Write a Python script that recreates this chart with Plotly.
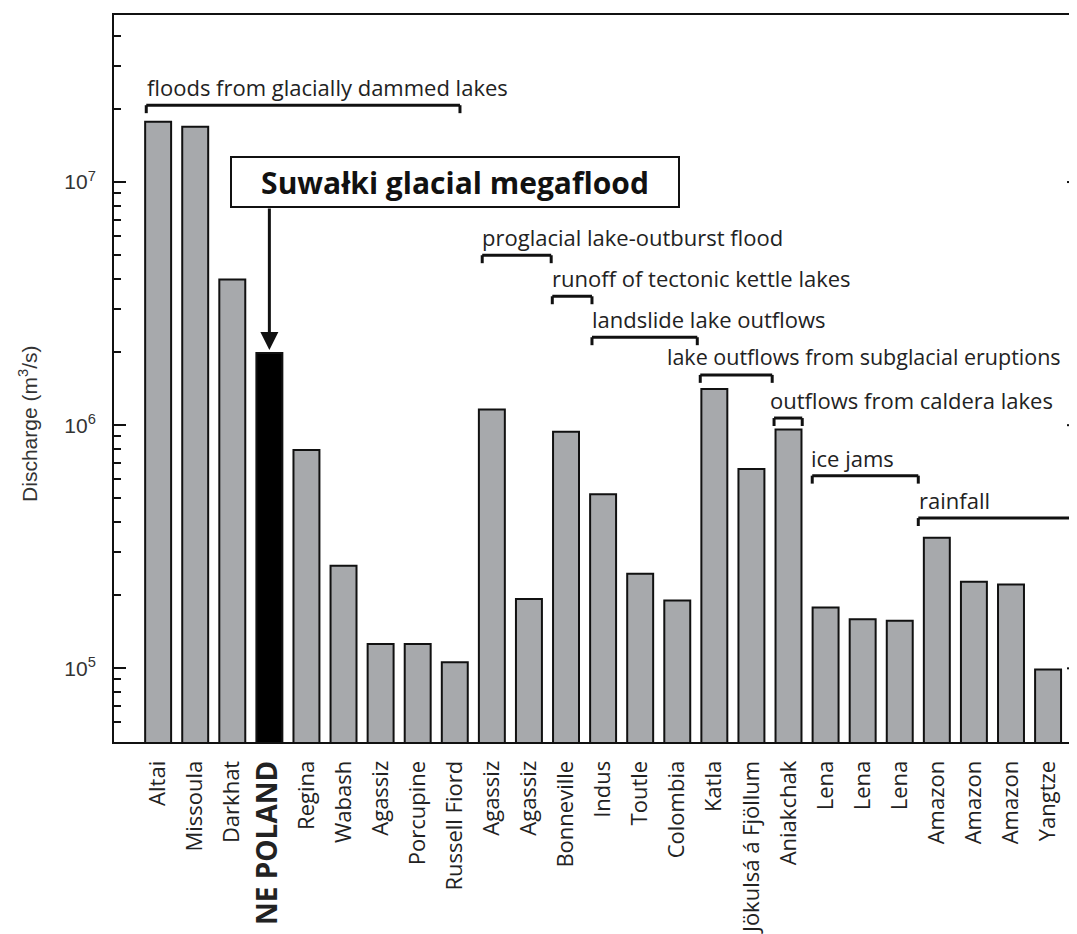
import math
import plotly.graph_objects as go

# ---------------- data ----------------
sites = ["Altai", "Missoula", "Darkhat", "NE POLAND", "Regina", "Wabash", "Agassiz",
         "Porcupine", "Russell Fiord", "Agassiz", "Agassiz", "Bonneville", "Indus",
         "Toutle", "Colombia", "Katla", "Jökulsá á Fjöllum", "Aniakchak", "Lena",
         "Lena", "Lena", "Amazon", "Amazon", "Amazon", "Yangtze"]
discharge = [1.77e7, 1.69e7, 3.97e6, 1.98e6, 7.9e5, 2.64e5, 1.26e5,
             1.26e5, 1.06e5, 1.16e6, 1.93e5, 9.4e5, 5.2e5,
             2.45e5, 1.90e5, 1.41e6, 6.6e5, 9.6e5, 1.78e5,
             1.59e5, 1.57e5, 3.44e5, 2.27e5, 2.21e5, 9.9e4]
highlight = "NE POLAND"

# flood-type groups: label, bracket start index, bracket end index, level (m3/s), label start index
groups = [
    ("floods from glacially dammed lakes", -0.32, 8.14, 2.07e7, -0.36),
    ("proglacial lake-outburst flood", 8.74, 10.6, 5.0e6, 8.68),
    ("runoff of tectonic kettle lakes", 10.63, 11.7, 3.39e6, 10.58),
    ("landslide lake outflows", 11.7, 14.54, 2.30e6, 11.66),
    ("lake outflows from subglacial eruptions", 14.62, 16.56, 1.61e6, 13.66),
    ("outflows from caldera lakes", 16.61, 17.37, 1.07e6, 16.46),
    ("ice jams", 17.64, 20.5, 6.2e5, 17.54),
    ("rainfall", 20.5, 24.65, 4.15e5, 20.46),
]

major_ticks = [1e5, 1e6, 1e7]
major_text = ["10<sup>5</sup>", "10<sup>6</sup>", "10<sup>7</sup>"]

# ---------------- figure ----------------
xs = list(range(len(sites)))
colors = ["#000000" if s == highlight else "#a7a9ac" for s in sites]

fig = go.Figure()
fig.add_trace(go.Bar(
    x=xs, y=discharge, width=0.70,
    marker=dict(color=colors, line=dict(color="#111111", width=2)),
    showlegend=False, hoverinfo="skip",
))

ticktext = []
for s in sites:
    if s == highlight:
        ticktext.append("<span style='font-size:28px'><b>%s</b></span>" % s)
    else:
        ticktext.append(s)

fig.update_layout(
    width=1069, height=926,
    margin=dict(l=106, r=0, t=7, b=188),
    paper_bgcolor="white", plot_bgcolor="white",
    xaxis=dict(
        range=[-1.19, 24.78],
        tickmode="array", tickvals=xs, ticktext=ticktext,
        tickangle=-90, ticks="",
        tickfont=dict(family="Open Sans", size=22, color="#222222"),
        showline=True, linecolor="#111111", linewidth=2, mirror=True,
        showgrid=False, zeroline=False, ticklabelstandoff=8,
    ),
    yaxis=dict(
        type="log", range=[4.697, 7.687],
        tickmode="array", tickvals=major_ticks, ticktext=major_text,
        ticks="inside", ticklen=12, tickwidth=2, tickcolor="#111111",
        minor=dict(ticks="inside", ticklen=7, tickwidth=2, tickcolor="#111111",
                   dtick="D1", showgrid=False),
        tickfont=dict(family="Liberation Sans", size=21, color="#333333"),
        showline=True, linecolor="#111111", linewidth=2,
        showgrid=False, zeroline=False, ticklabelstandoff=12,
    ),
)

# y-axis title
fig.add_annotation(
    text="Discharge (m<sup>3</sup>/s)", textangle=-90,
    xref="paper", yref="paper", x=-0.090, y=0.438, xanchor="center", yanchor="middle",
    showarrow=False, font=dict(family="Liberation Sans", size=21, color="#333333"),
)

# brackets + labels
tick_factor = 10 ** (-8 / 244.5)  # ~8 px downward on the log scale
for label, a, b, level, tx in groups:
    fig.add_shape(type="line", xref="x", yref="y", x0=a, x1=b, y0=level, y1=level,
                  line=dict(color="#111111", width=3))
    for xe in (a, b):
        fig.add_shape(type="line", xref="x", yref="y",
                      x0=xe, x1=xe, y0=level, y1=level * tick_factor,
                      line=dict(color="#111111", width=3))
    fig.add_annotation(
        text=label, x=tx, y=math.log10(level), xref="x", yref="y",
        xanchor="left", yanchor="middle", yshift=18, showarrow=False,
        font=dict(family="Open Sans", size=22 if len(label) < 36 else 21.5, color="#222222"),
    )

# right-side major ticks
for v in major_ticks:
    fig.add_shape(type="line", xref="paper", yref="y", x0=0.9896, x1=0.998, y0=v, y1=v,
                  line=dict(color="#111111", width=2))

# Suwałki box
fig.add_annotation(
    text="<b>Suwałki glacial megaflood</b>", x=8.0, y=7.0, xref="x", yref="y",
    xanchor="center", yanchor="middle",
    showarrow=False, bgcolor="white", bordercolor="#111111", borderwidth=2,
    width=444, height=46, font=dict(family="Open Sans", size=30, color="#111111"),
)
# arrow
fig.add_annotation(
    text="", x=3, y=math.log10(2.04e6), xref="x", yref="y",
    ax=0, ay=-143, showarrow=True, arrowhead=2, arrowsize=1.2, arrowwidth=3,
    arrowcolor="#111111",
)

fig.write_html("out.html")
